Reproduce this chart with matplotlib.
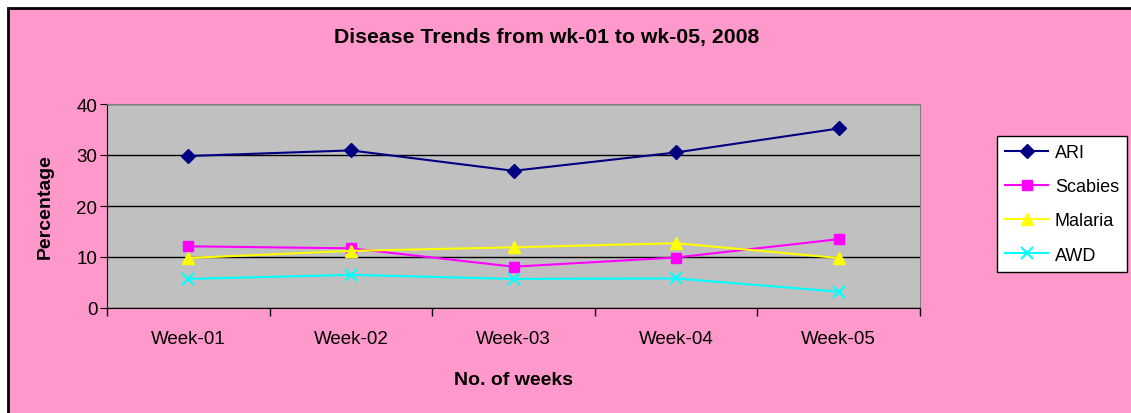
import matplotlib
matplotlib.use('Agg')
import matplotlib.pyplot as plt
from matplotlib.patches import Rectangle
import numpy as np

# Data
weeks = ['Week-01', 'Week-02', 'Week-03', 'Week-04', 'Week-05']
ari = [29.8, 30.9, 26.9, 30.5, 35.2]
scabies = [12.1, 11.7, 8.1, 9.9, 13.5]
malaria = [9.8, 11.2, 11.9, 12.7, 9.8]
awd = [5.7, 6.5, 5.7, 5.8, 3.2]

plt.rcParams['font.family'] = ['Liberation Sans', 'DejaVu Sans']

fig = plt.figure(figsize=(11.31, 4.14), dpi=100)
fig.patch.set_facecolor('white')

# Pink chart area with black frame on top/left
W, H = 1131, 414
fig.patches.append(Rectangle((8 / W, -0.1), 1.2, 1 - 9 / H + 0.1, transform=fig.transFigure,
                             facecolor='#FF99CC', edgecolor='black', linewidth=2, zorder=-5))

ax = fig.add_axes([107 / W, 1 - 309 / H, (920 - 107) / W, (309 - 105) / H])
ax.set_facecolor('#C0C0C0')

x = np.arange(len(weeks))
ax.plot(x, ari, color='#000080', marker='D', markersize=7, linewidth=1.5, label='ARI')
ax.plot(x, scabies, color='#FF00FF', marker='s', markersize=7, linewidth=1.5, label='Scabies')
ax.plot(x, malaria, color='#FFFF00', marker='^', markersize=8, linewidth=1.5, label='Malaria')
ax.plot(x, awd, color='#00FFFF', marker='x', markersize=9, markeredgewidth=1.5, linewidth=1.5, label='AWD')

ax.set_xlim(-0.5, len(weeks) - 0.5)
ax.set_ylim(0, 40)
ax.set_yticks([0, 10, 20, 30, 40])
ax.yaxis.grid(True, color='black', linewidth=1)
ax.set_axisbelow(True)

# category labels centred, tick marks between categories
ax.set_xticks(x)
ax.set_xticklabels(weeks, fontsize=13.5)
ax.tick_params(axis='x', length=0, pad=16)
ax.set_xticks(np.arange(len(weeks) + 1) - 0.5, minor=True)
ax.tick_params(axis='x', which='minor', length=6, width=1, color='black')
ax.tick_params(axis='y', length=5, labelsize=13.5, pad=2)

for s in ['top', 'right']:
    ax.spines[s].set_color('#808080')
for s in ['left', 'bottom']:
    ax.spines[s].set_color('black')

ax.set_ylabel('Percentage', fontsize=14, fontweight='bold', labelpad=16)
ax.set_xlabel('No. of weeks', fontsize=14, fontweight='bold', labelpad=17)
fig.text(547 / W, 1 - 38 / H, 'Disease Trends from wk-01 to wk-05, 2008',
         fontsize=15.3, fontweight='bold', ha='center', va='center')

leg = ax.legend(loc='upper left', bbox_to_anchor=(997 / W, 1 - 137 / H),
                bbox_transform=fig.transFigure, borderaxespad=0, fontsize=13,
                frameon=True, fancybox=False, edgecolor='black', framealpha=1,
                handlelength=2.4, handletextpad=0.35, labelspacing=0.95,
                borderpad=0.45)
leg.get_frame().set_linewidth(1)

fig.savefig('out.png', dpi=100, facecolor=fig.get_facecolor())
